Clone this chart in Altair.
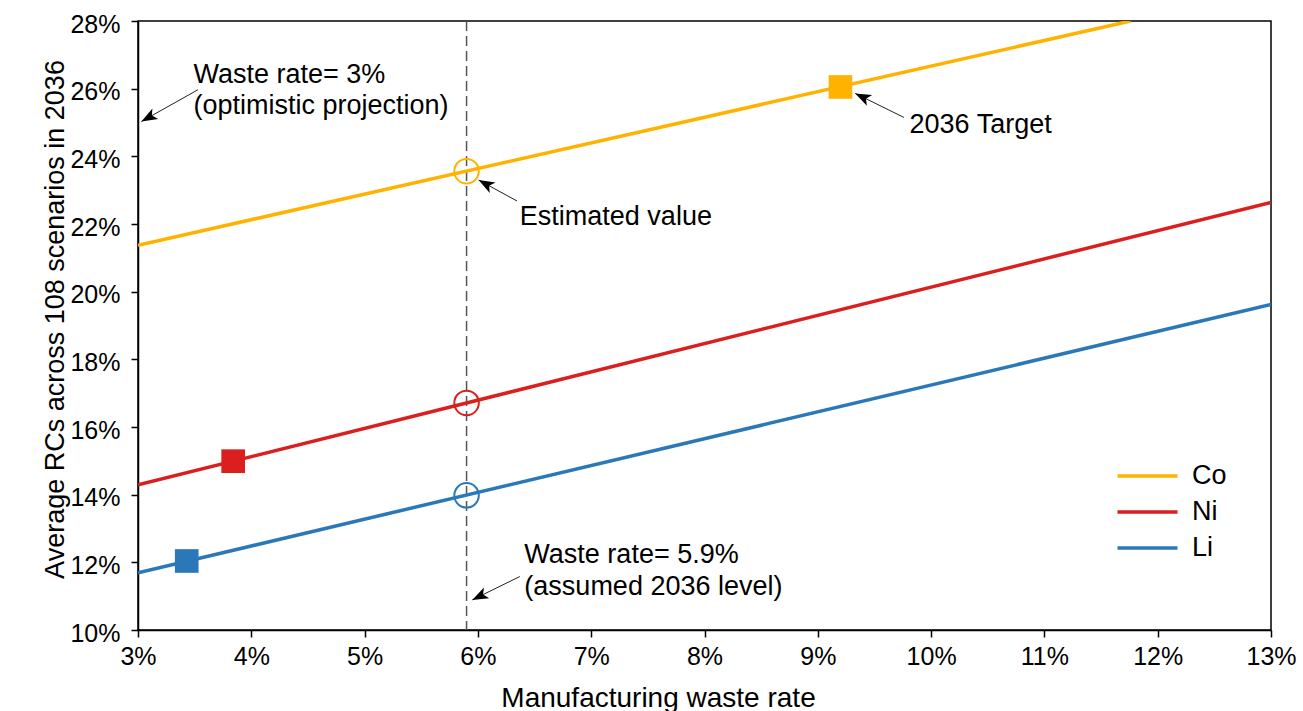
import math

import altair as alt
import pandas as pd

# ---- data (waste rate in %, recycled content in %) ----
METALS = ["Co", "Ni", "Li"]
COLORS = ["#FFB300", "#DB1F1F", "#2A78B8"]

# straight-line relation between waste rate and average RC, per metal
LINE_START_X = [3.0, 3.0, 3.0]
LINE_START_Y = [21.37, 14.29, 11.69]
LINE_END_X = [11.76, 13.0, 13.0]
LINE_END_Y = [28.0, 22.64, 19.62]

# 2036 targets (filled squares)
TARGET_X = [9.2, 3.84, 3.43]
TARGET_Y = [26.05, 14.99, 12.04]

# estimated values at the assumed 2036 waste rate (open circles)
ASSUMED_RATE = 5.9
ESTIMATE_Y = [23.56, 16.71, 13.98]

# annotation texts, one row per text line (x, baseline y)
NOTE_TEXT = [
    "Waste rate= 3%",
    "(optimistic projection)",
    "2036 Target",
    "Estimated value",
    "Waste rate= 5.9%",
    "(assumed 2036 level)",
]
NOTE_X = [3.49, 3.49, 9.81, 6.37, 6.41, 6.41]
NOTE_Y = [26.18, 25.24, 24.70, 21.98, 11.98, 11.02]

# annotation arrows: tail -> tip
ARROW_X0 = [3.53, 9.76, 6.345, 6.37]
ARROW_Y0 = [25.97, 25.15, 22.68, 11.58]
ARROW_X1 = [3.03, 9.33, 6.006, 5.95]
ARROW_Y1 = [25.03, 25.86, 23.30, 10.89]

# axis ranges and ticks
X_DOMAIN = [3, 13]
Y_DOMAIN = [10, 28]
X_TICKS = list(range(3, 14))
Y_TICKS = list(range(10, 29, 2))

# ---- layout ----
PLOT_W, PLOT_H = 1133, 609
PAD = {"left": 138, "top": 21, "right": 32, "bottom": 81}
FONT = "Liberation Sans"

lines = pd.DataFrame(
    {
        "metal": METALS * 2,
        "x": LINE_START_X + LINE_END_X,
        "y": LINE_START_Y + LINE_END_Y,
        "order": [0] * 3 + [1] * 3,
    }
)
targets = pd.DataFrame({"metal": METALS, "x": TARGET_X, "y": TARGET_Y})
estimates = pd.DataFrame(
    {"metal": METALS, "x": [ASSUMED_RATE] * 3, "y": ESTIMATE_Y}
)
notes = pd.DataFrame({"text": NOTE_TEXT, "x": NOTE_X, "y": NOTE_Y})

# arrowhead rotation in screen space (path points up by default)
px_x = PLOT_W / (X_DOMAIN[1] - X_DOMAIN[0])
px_y = PLOT_H / (Y_DOMAIN[1] - Y_DOMAIN[0])
angles = []
for x0, y0, x1, y1 in zip(ARROW_X0, ARROW_Y0, ARROW_X1, ARROW_Y1):
    dx = (x1 - x0) * px_x
    dy = -(y1 - y0) * px_y
    angles.append(math.degrees(math.atan2(dx, -dy)) % 360)
arrows = pd.DataFrame(
    {"x": ARROW_X0, "y": ARROW_Y0, "x2": ARROW_X1, "y2": ARROW_Y1, "angle": angles}
)

x_scale = alt.Scale(domain=X_DOMAIN, nice=False, zero=False)
y_scale = alt.Scale(domain=Y_DOMAIN, nice=False, zero=False)

axis_style = dict(
    grid=False,
    tickSize=7,
    tickWidth=1.5,
    tickColor="black",
    domainColor="black",
    domainWidth=1.5,
    labelFont=FONT,
    labelFontSize=25,
    labelColor="black",
    labelFlush=False,
    labelOverlap=False,
    titleFont=FONT,
    titleFontWeight="normal",
    titleColor="black",
    titleAlign="center",
    titleBaseline="alphabetic",
    labelExpr="datum.value + '%'",
)

x_axis = alt.Axis(
    values=X_TICKS,
    title="Manufacturing waste rate",
    labelPadding=27,
    labelBaseline="alphabetic",
    titleX=520,
    titleY=76,
    titleFontSize=28,
    **axis_style,
)
y_axis = alt.Axis(
    values=Y_TICKS,
    title="Average RCs across 108 scenarios in 2036",
    labelPadding=11,
    labelOffset=3,
    titleX=-75,
    titleY=298,
    titleFontSize=27,
    **axis_style,
)


def xenc(field="x"):
    return alt.X(f"{field}:Q", scale=x_scale, axis=x_axis)


def yenc(field="y"):
    return alt.Y(f"{field}:Q", scale=y_scale, axis=y_axis)


color_scale = alt.Scale(domain=METALS, range=COLORS)

line_layer = (
    alt.Chart(lines)
    .mark_line(strokeWidth=3.5, clip=True)
    .encode(
        x=xenc(),
        y=yenc(),
        order="order:Q",
        color=alt.Color(
            "metal:N",
            scale=color_scale,
            sort=METALS,
            legend=alt.Legend(
                title=None,
                orient="none",
                legendX=996,
                legendY=441.5,
                symbolType="M-3,0H3",
                symbolSize=400,
                symbolStrokeWidth=3.5,
                labelFont=FONT,
                labelFontSize=27,
                labelColor="black",
                labelOffset=31,
                rowPadding=8,
                padding=0,
            ),
        ),
    )
)

guide_layer = (
    alt.Chart(pd.DataFrame({"x": [ASSUMED_RATE]}))
    .mark_rule(color="#555555", strokeWidth=1.5, strokeDash=[10, 5])
    .encode(x=xenc())
)

target_layer = (
    alt.Chart(targets)
    .mark_point(shape="square", filled=True, size=560, opacity=1)
    .encode(
        x=xenc(),
        y=yenc(),
        color=alt.Color("metal:N", scale=color_scale, legend=None),
    )
)

estimate_layer = (
    alt.Chart(estimates)
    .mark_point(shape="circle", filled=False, size=600, strokeWidth=2, opacity=1)
    .encode(
        x=xenc(),
        y=yenc(),
        color=alt.Color("metal:N", scale=color_scale, legend=None),
    )
)

shaft_layer = (
    alt.Chart(arrows)
    .mark_rule(color="#222222", strokeWidth=1)
    .encode(x=xenc(), y=yenc(), x2="x2:Q", y2="y2:Q")
)

head_layer = (
    alt.Chart(arrows)
    .mark_point(
        shape="M0,0L0.75,2L0,1.5L-0.75,2Z",
        filled=True,
        size=256,
        color="black",
        opacity=1,
    )
    .encode(
        x=xenc("x2"),
        y=yenc("y2"),
        angle=alt.Angle("angle:Q", scale=None),
    )
)

note_layer = (
    alt.Chart(notes)
    .mark_text(
        align="left",
        baseline="alphabetic",
        font=FONT,
        fontSize=27,
        color="black",
    )
    .encode(x=xenc(), y=yenc(), text="text:N")
)

chart = (
    alt.layer(
        guide_layer,
        line_layer,
        estimate_layer,
        target_layer,
        shaft_layer,
        head_layer,
        note_layer,
    )
    .properties(
        width=PLOT_W,
        height=PLOT_H,
        padding=PAD,
        background="white",
        autosize=alt.AutoSizeParams(type="none"),
    )
    .configure_view(stroke="black", strokeWidth=1.5)
)

chart.save("out.html", embed_options={"renderer": "svg", "actions": False})
